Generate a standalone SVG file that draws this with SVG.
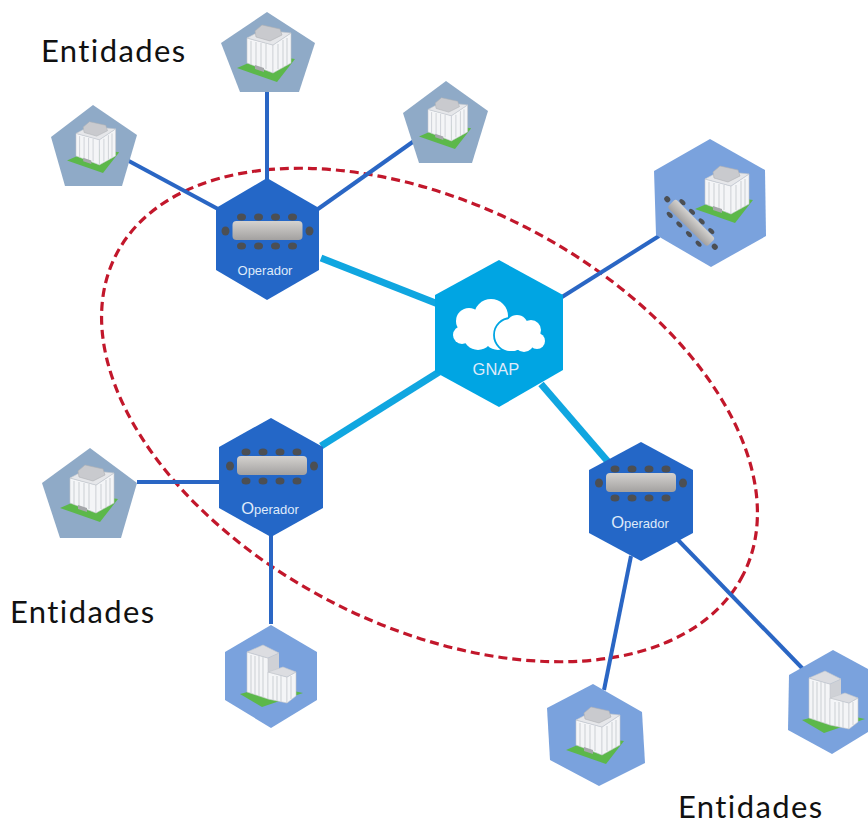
<svg xmlns="http://www.w3.org/2000/svg" width="868" height="825" viewBox="0 0 868 825">
<style>
.ent{font-family:Lato,"Liberation Sans",sans-serif;font-size:31px;letter-spacing:1.400px;fill:#111;font-variant-ligatures:none}
.lbl{font-family:"Liberation Sans",Arial,sans-serif;fill:#dfeafa;text-anchor:middle}
.op{fill:#2467c7}
.pent{fill:#8faac7}
.hexl{fill:#7aa2dd}
.thin{stroke:#2a66c4;stroke-width:4;fill:none}
.thick{stroke:#10a6e0;stroke-width:7;fill:none}
.wall{fill:#f4f5f7;stroke:#c4c7cc;stroke-width:.6}
.rib{stroke:#cfd2d8;stroke-width:1.100}
.chair{fill:#4c4f53}
</style>
<defs>
<linearGradient id="tbl" x1="0" y1="0" x2="0" y2="1"><stop offset="0" stop-color="#d4d2cf"/><stop offset="1" stop-color="#a3a1a0"/></linearGradient>
<g id="table">
<g class="chair">
<ellipse cx="-26" cy="-14" rx="4.500" ry="3.500"/><ellipse cx="-9" cy="-14" rx="4.500" ry="3.500"/><ellipse cx="8" cy="-14" rx="4.500" ry="3.500"/><ellipse cx="25" cy="-14" rx="4.500" ry="3.500"/>
<ellipse cx="-26" cy="15" rx="4.500" ry="3.500"/><ellipse cx="-9" cy="15" rx="4.500" ry="3.500"/><ellipse cx="8" cy="15" rx="4.500" ry="3.500"/><ellipse cx="25" cy="15" rx="4.500" ry="3.500"/>
<ellipse cx="-42" cy="0" rx="4" ry="4.500"/><ellipse cx="42" cy="0" rx="4" ry="4.500"/>
</g>
<rect x="-35" y="-10" width="70" height="19" rx="4" fill="url(#tbl)"/>
</g>
<g id="tower">
<polygon points="-30,16 0,3 28,7 10,30" fill="#5cb84a"/>
<polygon class="wall" points="-20,-14 6,-7 6,21 -20,11"/>
<polygon class="wall" points="6,-7 24,-19 24,11 6,21" fill="#e9ebee"/>
<polygon points="-20,-14 -5,-22 24,-19 6,-7" fill="#e6e7ea" stroke="#c4c7cc" stroke-width=".6"/>
<polygon points="-12,-21 -5,-27 13,-23 15,-17 3,-11 -11,-15" fill="#c9cace" stroke="#aeb0b4" stroke-width=".6"/>
<path class="rib" d="M-16,-11V12M-11,-10V14M-6,-9V16M-1,-8V17M11,-8V17M16,-12V15M20,-14V13"/>
<polygon points="-12,13 -3,16 -3,20 -12,17" fill="#a5a7aa"/>
</g>
<g id="bigb">
<polygon points="-31,18 0,10 32,17 -9,31" fill="#5cb84a"/>
<polygon points="-3,-18 8,-23 8,-5 3,24 -3,23" fill="#cfd1d6"/>
<polygon class="wall" points="-24,-24 -3,-18 -3,23 -24,16"/>
<polygon points="-24,-24 -8,-31 8,-23 -3,-18" fill="#dcdde1" stroke="#c4c7cc" stroke-width=".6"/>
<polygon class="wall" points="-3,-4 16,1 16,27 -3,23"/>
<polygon class="wall" points="16,1 25,-4 25,20 16,27" fill="#e6e8eb"/>
<polygon points="-3,-4 12,-9 25,-4 16,1" fill="#dcdde1" stroke="#c4c7cc" stroke-width=".6"/>
<path class="rib" d="M-20,-21V17M-16,-20V18M-12,-20V20M-8,-19V21M2,0V24M6,0V25M10,0V26M20,0V23"/>
</g>
</defs>

<g id="connectors">
<ellipse cx="429.500" cy="415" rx="352" ry="211" transform="rotate(27 429.500 415)" fill="none" stroke="#c2172b" stroke-width="3.200" stroke-dasharray="9 5"/>
<line class="thin" x1="267" y1="90" x2="267" y2="180"/>
<line class="thin" x1="127" y1="160" x2="218" y2="209"/>
<line class="thin" x1="414" y1="141" x2="318" y2="209"/>
<line class="thick" x1="321" y1="258" x2="438" y2="304"/>
<line class="thin" x1="562" y1="297" x2="659" y2="236"/>
<line class="thin" x1="137" y1="482" x2="220" y2="482"/>
<line class="thin" x1="271" y1="535" x2="271" y2="624"/>
<line class="thick" x1="321" y1="446" x2="439" y2="372"/>
<line class="thick" x1="541" y1="384" x2="610" y2="464"/>
<line class="thin" x1="631" y1="556" x2="604" y2="690"/>
<line class="thin" x1="678" y1="540" x2="803" y2="669"/>
</g>

<g id="ent-top"><polygon class="pent" points="267,12 315,43 299,92 240,92 221,43"/><use href="#tower" x="267" y="52"/></g>
<g id="ent-upper-left"><polygon class="pent" points="93,105 137,135 122,186 65,186 51,137"/><use href="#tower" transform="translate(94 146) scale(.9)"/></g>
<g id="ent-upper-right"><polygon class="pent" points="446,81 488,111 472,163 419,163 403,113"/><use href="#tower" transform="translate(446 122) scale(.9)"/></g>
<g id="ent-left"><polygon class="pent" points="90,448 137,483 121,538 60,538 42,483"/><use href="#tower" x="90" y="492"/></g>

<g id="ent-gateway">
<polygon class="hexl" points="710,139 765,170 766,236 711,267 656,235 654,171"/>
<use href="#tower" x="725" y="193"/>
<use href="#table" transform="translate(691 223) rotate(45) scale(.8 .62)"/>
</g>
<g id="ent-bottom-left"><polygon class="hexl" points="271,625 317,652 317,700 271,728 225,700 225,652"/><use href="#bigb" x="271" y="676"/></g>
<g id="ent-bottom"><polygon class="hexl" points="593,684 642,712 645,763 599,786 550,760 547,708"/><use href="#tower" x="596" y="734"/></g>
<g id="ent-far-right"><polygon class="hexl" points="833,650 868,669 868,732 832,754 788,730 789,675"/><use href="#bigb" x="833" y="702"/></g>

<g id="op-1">
<polygon class="op" points="267,178 319,208 319,270 267,300 216,270 216,208"/>
<use href="#table" x="267.500" y="231"/>
<text class="lbl" x="265" y="275" font-size="13">Operador</text>
</g>
<g id="op-2">
<polygon class="op" points="271,418 323,447 323,508 271,537 219,508 219,447"/>
<use href="#table" x="272" y="466"/>
<text class="lbl" x="270" y="514" font-size="13"><tspan font-size="16.500">O</tspan>perador</text>
</g>
<g id="op-3">
<polygon class="op" points="641,442 693,470 693,533 641,561 589,533 589,470"/>
<use href="#table" x="641" y="483"/>
<text class="lbl" x="640" y="528" font-size="13"><tspan font-size="16.500">O</tspan>perador</text>
</g>

<g id="gnap">
<polygon points="499,260 563,295 563,370 499,407 435,372 435,295" fill="#00a5e3"/>
<g fill="#fff">
<circle cx="491" cy="316" r="17"/><circle cx="469" cy="321" r="13"/><circle cx="462" cy="335" r="9"/><circle cx="478" cy="335" r="15"/><circle cx="498" cy="335" r="15"/>
</g>
<circle cx="511" cy="335" r="17" fill="#fff" stroke="#00a5e3" stroke-width="1.800"/>
<g fill="#fff">
<circle cx="517" cy="326" r="11"/><circle cx="531" cy="330" r="10"/><circle cx="537" cy="341" r="8"/><circle cx="524" cy="342" r="10"/><circle cx="512" cy="336" r="15"/>
</g>
<text class="lbl" x="496" y="375" font-size="16.500">GNAP</text>
</g>

<text class="ent" x="41" y="62">Entidades</text>
<text class="ent" x="10" y="623">Entidades</text>
<text class="ent" x="678" y="818">Entidades</text>
</svg>
